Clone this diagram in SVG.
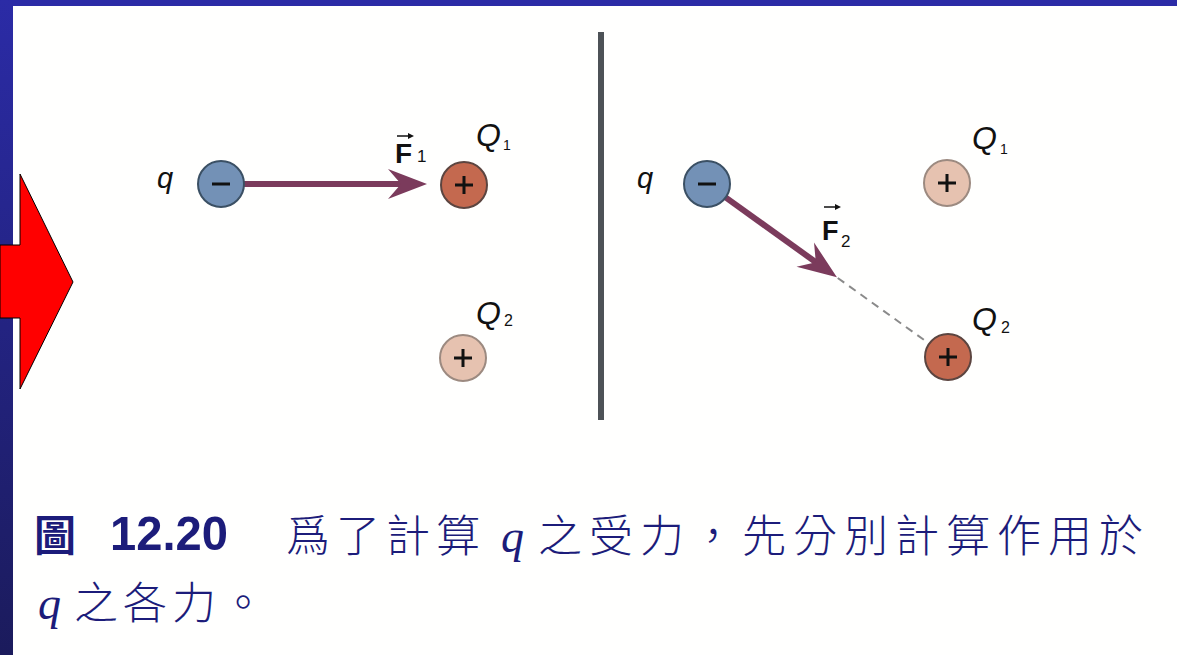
<svg xmlns="http://www.w3.org/2000/svg" width="1180" height="655" viewBox="0 0 1180 655">
<defs>
<linearGradient id="band" x1="0" y1="0" x2="0" y2="1">
<stop offset="0" stop-color="#2b2ba6"/>
<stop offset="1" stop-color="#1b1b5c"/>
</linearGradient>
<style>
.lbl{font-family:"Liberation Sans",Arial,sans-serif;font-style:italic;fill:#111}
.sub{font-family:"Liberation Sans",Arial,sans-serif;fill:#111}
.fb{font-family:"Liberation Sans",Arial,sans-serif;font-weight:bold;fill:#111}
.neg{fill:#7391b6;stroke:#3b5064;stroke-width:2}
.pos{fill:#c4694f;stroke:#5c4540;stroke-width:2}
.posl{fill:#e6c2b0;stroke:#9c8a80;stroke-width:2}
.sign{stroke:#111;stroke-width:3;fill:none}
.force{fill:#7b3b5c}
.cap{font-family:"Noto Sans CJK TC","Noto Sans CJK SC",sans-serif;fill:#1c1c7a;font-size:44px;font-weight:300}
.capb{font-family:"Noto Sans CJK TC","Noto Sans CJK SC",sans-serif;fill:#1c1c7a;font-size:42px;font-weight:bold}
.capq{font-family:"Liberation Serif","Times New Roman",serif;font-style:italic;fill:#1c1c7a;font-size:46px}
</style>
</defs>
<rect x="0" y="0" width="1180" height="655" fill="#fffffe"/>
<rect x="0" y="0" width="1177" height="6" fill="#2b2ba6"/>
<rect x="0" y="0" width="13" height="655" fill="url(#band)"/>
<polygon points="0,245 20,245 20,174 73,282 20,389 20,318 0,318" fill="#ff0000" stroke="#000" stroke-width="1"/>
<rect x="598" y="32" width="6" height="388" fill="#4d5257"/>

<g id="connectors">
<g id="F1">
<rect x="244" y="181" width="160" height="6" class="force"/>
<polygon points="427,184 388,169 401,184 388,199" class="force"/>
</g>
<g id="F2" transform="translate(707,184) rotate(35.7)">
<line x1="161" y1="0" x2="270" y2="0" stroke="#8a8a8a" stroke-width="2" stroke-dasharray="8,6"/>
<rect x="22" y="-3" width="116" height="6" class="force"/>
<polygon points="160,0 121,-15 134,0 121,15" class="force"/>
</g>
</g>

<g id="left-q">
<circle cx="221" cy="184" r="23" class="neg"/>
<line x1="212" y1="184" x2="230" y2="184" class="sign"/>
<text x="157" y="188" class="lbl" font-size="29">q</text>
</g>
<g id="left-Q1">
<circle cx="464" cy="185" r="23" class="pos"/>
<path d="M455,185 H473 M464,176 V194" class="sign" stroke-width="2.5"/>
<text x="476" y="146" class="lbl" font-size="32">Q</text>
<text x="503" y="150" class="sub" font-size="14">1</text>
</g>
<g id="left-Q2">
<circle cx="463" cy="358" r="23" class="posl"/>
<path d="M454,358 H472 M463,349 V367" class="sign" stroke-width="2.5"/>
<text x="476" y="324" class="lbl" font-size="32">Q</text>
<text x="504" y="326" class="sub" font-size="16">2</text>
</g>
<g id="label-F1">
<text x="395" y="163" class="fb" font-size="28">F</text>
<path d="M397,136 H410" stroke="#111" stroke-width="1.5"/>
<polygon points="414,136 408,133 408,139" fill="#111"/>
<text x="417" y="162" class="sub" font-size="17">1</text>
</g>

<g id="right-q">
<circle cx="707" cy="184" r="23" class="neg"/>
<line x1="698" y1="184" x2="716" y2="184" class="sign"/>
<text x="637" y="188" class="lbl" font-size="29">q</text>
</g>
<g id="right-Q1">
<circle cx="947" cy="183" r="23" class="posl"/>
<path d="M938,183 H956 M947,174 V192" class="sign" stroke-width="2.5"/>
<text x="972" y="149" class="lbl" font-size="32">Q</text>
<text x="1000" y="154" class="sub" font-size="14">1</text>
</g>
<g id="right-Q2">
<circle cx="948" cy="357" r="23" class="pos"/>
<path d="M939,357 H957 M948,348 V366" class="sign" stroke-width="2.5"/>
<text x="972" y="330" class="lbl" font-size="32">Q</text>
<text x="1001" y="333" class="sub" font-size="16">2</text>
</g>
<g id="label-F2">
<text x="822" y="240" class="fb" font-size="27">F</text>
<path d="M824,207 H837" stroke="#111" stroke-width="1.5"/>
<polygon points="841,207 835,204 835,210" fill="#111"/>
<text x="841" y="247" class="sub" font-size="17">2</text>
</g>

<g id="caption">
<text x="34" y="551" class="capb">圖</text>
<text x="110" y="550" font-family="Liberation Sans,Arial,sans-serif" font-weight="bold" font-size="49" textLength="118" lengthAdjust="spacingAndGlyphs" fill="#1c1c7a">12.20</text>
<text x="286" y="552" class="cap" letter-spacing="6">爲了計算</text>
<text x="501" y="552" class="capq">q</text>
<text x="538" y="552" class="cap" letter-spacing="7">之受力，先分別計算作用於</text>
<text x="38" y="619" class="capq">q</text>
<text x="74" y="619" class="cap" letter-spacing="5">之各力。</text>
</g>
</svg>
